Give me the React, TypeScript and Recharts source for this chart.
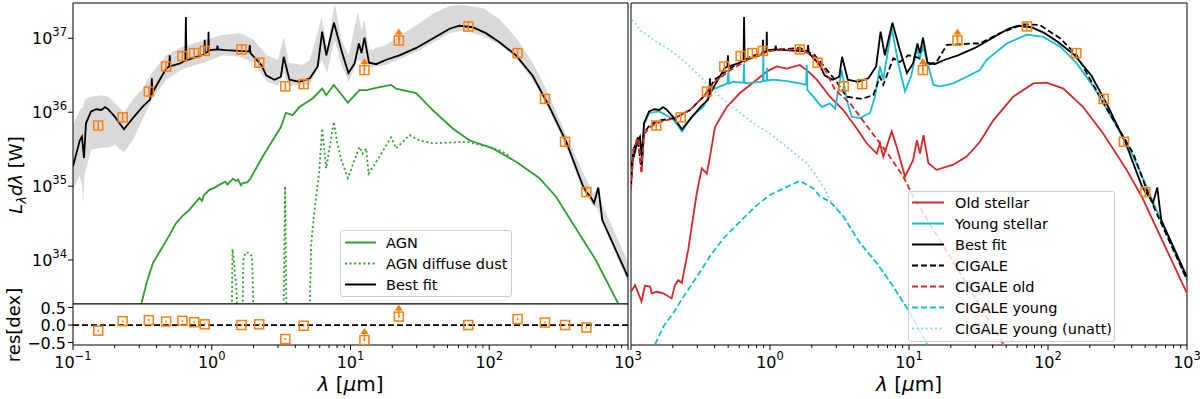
import React from 'react';
import { ComposedChart, Line, Area, Scatter, XAxis, YAxis, ReferenceLine, ReferenceArea } from 'recharts';

const FONT = '"DejaVu Sans", sans-serif';
const C_GREEN = '#2ca02c';
const C_RED = '#d62728';
const C_CYAN = '#17becf';
const C_ORANGE = '#ff7f0e';
const C_BAND = '#d9d9d9';

// photometry (lambda in um, log10 L, residual in dex, lower limit flag)
const obsLambda = [0.152, 0.228, 0.352, 0.469, 0.615, 0.746, 0.89, 1.64, 2.2, 3.39, 4.6, 12.6, 22.3, 70.6, 160, 252, 352, 501];
const obsLogL = [35.82, 35.93, 36.28, 36.62, 36.76, 36.8, 36.83, 36.85, 36.67, 36.35, 36.38, 36.57, 36.97, 37.16, 36.8, 36.18, 35.6, 34.92];
const obsRes = [-0.16, 0.11, 0.14, 0.1, 0.12, 0.08, 0.02, 0.0, 0.02, -0.4, -0.02, -0.43, 0.24, 0.0, 0.17, 0.07, 0.0, -0.07];
const obsLimit = [false, false, false, false, false, false, false, false, false, false, false, true, true, false, false, false, false, false];

// [lambda, log10 L]
const bestFit = [
  [0.1, 35.27], [0.112, 35.62], [0.116, 35.67], [0.12, 35.38], [0.124, 35.85], [0.135, 36.01], [0.147, 36.04],
  [0.16, 36.03], [0.17, 36.07], [0.179, 36.04], [0.2, 35.94], [0.233, 35.77], [0.27, 35.92], [0.319, 36.08],
  [0.359, 36.17], [0.366, 36.25], [0.37, 36.46], [0.373, 36.26], [0.422, 36.44], [0.47, 36.59], [0.494, 36.62],
  [0.498, 36.77], [0.502, 36.62], [0.59, 36.66], [0.645, 36.7], [0.651, 37.29], [0.657, 36.7], [0.77, 36.75],
  [0.885, 36.78], [0.89, 36.98], [0.895, 36.8], [0.943, 36.82], [0.948, 37.09], [0.953, 36.84], [1.09, 36.85],
  [1.1, 36.9], [1.11, 36.85], [1.27, 36.84], [1.58, 36.83], [1.86, 36.82], [1.88, 36.91], [1.9, 36.8],
  [2.28, 36.64], [2.47, 36.5], [2.83, 36.44], [3.15, 36.48], [3.3, 36.75], [3.63, 36.44], [4.3, 36.41],
  [5.1, 36.46], [5.8, 36.62], [6.25, 37.09], [6.7, 36.77], [7.6, 37.21], [8.6, 36.84], [9.66, 36.53],
  [10.7, 36.66], [11.5, 36.93], [12.0, 36.8], [12.6, 37.01], [13.6, 36.67], [15.3, 36.65], [18.1, 36.71],
  [22.5, 36.77], [29.8, 36.87], [39.5, 37.0], [51.8, 37.13], [61, 37.17], [76, 37.15], [94.6, 37.07],
  [118, 36.95], [156, 36.77], [206, 36.49], [272, 36.07], [359, 35.6], [469, 35.02], [501, 34.92],
  [540, 34.85], [569, 34.77], [611, 34.98], [653, 34.54], [1000, 33.77],
];

// [lambda, low, high] in log10 L
const bestFitBand = [
  [0.1, 34.95, 35.83], [0.112, 35.15, 36.03], [0.116, 35.02, 36.06], [0.118, 34.74, 36.06], [0.121, 35.15, 36.17],
  [0.135, 35.49, 36.21], [0.16, 35.52, 36.23], [0.18, 35.52, 36.21], [0.2, 35.56, 36.12], [0.233, 35.46, 36.0],
  [0.27, 35.62, 36.17], [0.32, 35.92, 36.33], [0.37, 36.17, 36.53], [0.47, 36.44, 36.77], [0.6, 36.57, 36.88],
  [0.645, 36.6, 36.9], [0.651, 36.6, 37.45], [0.657, 36.6, 36.9], [0.9, 36.68, 36.98], [1.2, 36.77, 37.05],
  [1.6, 36.75, 37.07], [2.0, 36.67, 36.98], [2.5, 36.41, 36.77], [3.0, 36.36, 36.71], [3.3, 36.54, 37.02],
  [3.6, 36.36, 36.67], [4.5, 36.36, 36.64], [5.1, 36.38, 36.71], [6.2, 36.71, 37.28], [6.8, 36.54, 36.87],
  [7.7, 36.98, 37.48], [8.6, 36.64, 36.98], [9.7, 36.41, 36.77], [11.3, 36.71, 37.36], [12.0, 36.68, 37.11],
  [12.6, 36.73, 37.25], [13.6, 36.6, 36.84], [18, 36.64, 36.91], [22, 36.71, 37.02], [30, 36.82, 37.18],
  [40, 36.95, 37.34], [52, 37.07, 37.44], [65, 37.11, 37.45], [90, 37.03, 37.41], [120, 36.91, 37.25],
  [160, 36.71, 36.98], [210, 36.41, 36.64], [270, 36.03, 36.23], [360, 35.52, 35.69], [470, 34.95, 35.2],
  [560, 34.74, 34.9], [600, 34.7, 34.95], [653, 34.5, 34.75], [1000, 33.7, 33.97],
];

const agn = [
  [0.3, 33.3], [0.31, 33.4], [0.34, 33.7], [0.377, 33.96], [0.443, 34.18], [0.5, 34.35], [0.553, 34.5],
  [0.62, 34.6], [0.69, 34.68], [0.75, 34.76], [0.815, 34.84], [0.85, 34.8], [0.88, 34.88], [0.96, 34.95],
  [1.05, 34.98], [1.14, 35.02], [1.25, 35.06], [1.3, 35.02], [1.42, 35.1], [1.5, 35.07], [1.55, 35.09],
  [1.62, 35.01], [1.67, 35.04], [1.8, 35.05], [1.9, 35.1], [2.03, 35.2], [2.33, 35.4], [2.75, 35.62],
  [3.15, 35.8], [3.42, 35.99], [3.83, 35.96], [4.28, 36.07], [5.36, 36.19], [6.25, 36.32], [6.68, 36.23],
  [7.58, 36.37], [9.57, 36.13], [11.6, 36.3], [13.0, 36.3], [16.2, 36.34], [19.6, 36.37], [21.3, 36.32],
  [29.7, 36.26], [39.1, 36.03], [54.5, 35.78], [71.8, 35.62], [106, 35.51], [156, 35.33], [229, 35.11],
  [302, 34.86], [398, 34.5], [586, 34.0], [861, 33.39],
];

const agnDust = [
  [1.39, 33.0], [1.41, 34.15], [1.44, 34.0], [1.47, 33.8], [1.5, 33.7], [1.54, 33.0], [1.66, 33.0],
  [1.69, 34.0], [1.75, 34.1], [1.85, 34.1], [1.95, 34.05], [2.02, 33.0], [3.28, 33.0], [3.38, 35.0],
  [3.46, 33.0], [5.05, 33.0], [5.2, 34.2], [5.45, 34.6], [5.95, 35.2], [6.25, 35.78], [6.68, 35.24],
  [7.58, 35.87], [8.0, 35.6], [8.6, 35.35], [9.57, 35.11], [11.6, 35.53], [12.2, 35.44], [12.97, 35.51],
  [13.5, 35.17], [16.2, 35.4], [19.6, 35.66], [21.3, 35.51], [26.6, 35.69], [31.3, 35.62], [39.1, 35.58],
  [51.8, 35.59], [68.3, 35.6], [95.7, 35.54], [124, 35.47], [140, 35.4],
];

const oldStellar = [
  [0.1, 33.57], [0.107, 33.66], [0.119, 33.44], [0.126, 33.65], [0.137, 33.64], [0.141, 33.55], [0.153, 33.57],
  [0.171, 33.55], [0.196, 33.48], [0.207, 33.66], [0.219, 33.73], [0.232, 33.69], [0.258, 34.14], [0.297, 34.9],
  [0.323, 35.24], [0.351, 35.17], [0.37, 35.4], [0.402, 35.8], [0.488, 36.07], [0.608, 36.26], [0.802, 36.44],
  [0.946, 36.55], [1.12, 36.62], [1.32, 36.59], [1.64, 36.64], [1.89, 36.55], [2.17, 36.44], [2.7, 36.21],
  [3.37, 36.03], [4.21, 35.78], [4.96, 35.58], [5.86, 35.44], [6.18, 35.58], [6.53, 35.4], [7.51, 35.74],
  [8.16, 35.53], [9.36, 35.13], [10.7, 35.35], [11.4, 35.62], [12.0, 35.44], [12.7, 35.69], [13.8, 35.31],
  [15.8, 35.22], [20.8, 35.29], [26.0, 35.4], [32.4, 35.6], [40.4, 35.89], [56.2, 36.21], [78.3, 36.39],
  [97.9, 36.4], [129, 36.32], [179, 36.07], [250, 35.71], [368, 35.22], [472, 34.86], [1000, 33.55],
];

const youngStellar = [
  [0.1, 35.25], [0.112, 35.6], [0.116, 35.65], [0.12, 35.36], [0.124, 35.83], [0.135, 35.99], [0.16, 36.01],
  [0.2, 35.91], [0.233, 35.74], [0.273, 35.94], [0.331, 36.07], [0.381, 36.3], [0.437, 36.35], [0.495, 36.39],
  [0.501, 36.55], [0.507, 36.39], [0.545, 36.41], [0.645, 36.4], [0.65, 36.66], [0.655, 36.4], [0.679, 36.39],
  [0.847, 36.41], [0.89, 36.42], [0.895, 36.87], [0.9, 36.42], [0.945, 36.43], [0.95, 36.6], [0.955, 36.43],
  [1.06, 36.44], [1.32, 36.42], [1.64, 36.39], [1.82, 36.37], [1.84, 36.64], [1.86, 36.3], [2.05, 36.21],
  [2.36, 36.07], [2.7, 36.12], [2.94, 36.05], [3.28, 36.57], [3.56, 36.17], [3.87, 35.94], [4.44, 35.92],
  [5.24, 35.99], [5.69, 36.21], [6.18, 36.62], [6.53, 36.44], [7.51, 37.14], [8.38, 36.66], [9.36, 36.28],
  [10.4, 36.5], [11.4, 36.87], [11.9, 36.71], [12.6, 36.89], [15.0, 36.37], [16.7, 36.35], [20.8, 36.39],
  [26.0, 36.48], [32.4, 36.57], [36.2, 36.71], [50.5, 36.93], [70.3, 37.05], [92.5, 37.02], [122, 36.89],
  [161, 36.66], [212, 36.35], [295, 35.89], [411, 35.4], [513, 34.99], [573, 34.77], [1000, 33.74],
];

const cigale = [
  [0.1, 34.99], [0.104, 35.49], [0.112, 35.66], [0.119, 35.2], [0.124, 35.72], [0.137, 35.83], [0.162, 35.89],
  [0.207, 35.92], [0.266, 36.03], [0.34, 36.23], [0.4, 36.44], [0.52, 36.6], [0.72, 36.75], [1.0, 36.84],
  [1.64, 36.87], [2.1, 36.77], [2.5, 36.6], [3.02, 36.41], [3.56, 36.21], [4.57, 36.18], [5.53, 36.23],
  [6.18, 36.48], [6.53, 36.37], [7.71, 36.73], [8.61, 36.68], [9.88, 36.77], [12.0, 36.73], [13.4, 36.64],
  [15.8, 36.68], [18.7, 36.91], [23.3, 36.92], [29.0, 36.93], [32.4, 36.93], [45.2, 37.07], [66.4, 37.19],
  [87.5, 37.18], [122, 37.0], [161, 36.77], [236, 36.21], [411, 35.44], [513, 34.95], [589, 34.68], [1000, 33.73],
];

const cigaleOld = [
  [0.1, 34.95], [0.104, 35.49], [0.112, 35.65], [0.119, 35.18], [0.124, 35.7], [0.137, 35.8], [0.162, 35.87],
  [0.207, 35.92], [0.266, 36.03], [0.34, 36.23], [0.4, 36.41], [0.52, 36.57], [0.72, 36.73], [1.0, 36.83],
  [1.64, 36.855], [2.1, 36.75], [2.5, 36.57], [2.94, 36.3], [3.77, 36.12], [4.44, 35.94], [6.18, 35.58],
  [7.27, 35.4], [9.1, 35.13], [10.7, 34.86], [47.6, 32.87], [60, 32.6],
];

const cigaleYoung = [
  [0.14, 32.75], [0.171, 33.1], [0.201, 33.28], [0.238, 33.5], [0.297, 33.77], [0.37, 34.05], [0.461, 34.29],
  [0.608, 34.52], [0.802, 34.74], [1.0, 34.88], [1.32, 34.99], [1.64, 35.07], [2.05, 34.97], [2.29, 34.86],
  [2.7, 34.79], [3.37, 34.59], [4.44, 34.23], [5.86, 33.96], [7.71, 33.64], [10.2, 33.28], [14.5, 32.75],
];

const cigaleYoungUnatt = [
  [0.101, 37.25], [0.108, 37.2], [0.116, 37.11], [0.13, 37.05], [0.145, 36.98], [0.17, 36.9], [0.191, 36.84],
  [0.252, 36.66], [0.331, 36.44], [0.437, 36.21], [0.575, 36.03], [0.759, 35.85], [1.0, 35.71], [1.32, 35.53],
  [1.84, 35.31], [2.17, 35.13], [2.36, 35.02], [2.5, 34.95], [2.7, 34.81], [3.37, 34.59], [4.44, 34.23],
  [5.86, 33.96], [7.71, 33.64], [10.2, 33.28], [14.5, 32.75],
];

const xMajor = [0.1, 1, 10, 100, 1000];
const xMinorMult = [2, 3, 4, 5, 6, 7, 8, 9];
const yMajorMain = [1e34, 1e35, 1e36, 1e37];
const resTicks = [-0.5, 0, 0.5];

const leftLegend = [
  { label: 'AGN', color: C_GREEN, dash: undefined, opacity: 1 },
  { label: 'AGN diffuse dust', color: C_GREEN, dash: '2 2.6', opacity: 1 },
  { label: 'Best fit', color: '#000', dash: undefined, opacity: 1 },
];
const rightLegend = [
  { label: 'Old stellar', color: C_RED, dash: undefined, opacity: 1 },
  { label: 'Young stellar', color: C_CYAN, dash: undefined, opacity: 1 },
  { label: 'Best fit', color: '#000', dash: undefined, opacity: 1 },
  { label: 'CIGALE', color: '#000', dash: '6 3', opacity: 1 },
  { label: 'CIGALE old', color: C_RED, dash: '6 3', opacity: 1 },
  { label: 'CIGALE young', color: C_CYAN, dash: '6 3', opacity: 1 },
  { label: 'CIGALE young (unatt)', color: C_CYAN, dash: '2 2.6', opacity: 0.5 },
];

const xDom: [number, number] = [0.1, 1000];
const mainY: [number, number] = [10 ** 33.405, 10 ** 37.478];
const rightY: [number, number] = [10 ** 32.85, 10 ** 37.478];
const resY: [number, number] = [-0.57, 0.6];

const pts = (s: number[][]) => s.map(([x, v]) => ({ x, y: 10 ** v }));
const bandData = bestFitBand.map(([x, lo, hi]) => ({ x, band: [10 ** lo, 10 ** hi] }));
const obsMain = obsLambda.map((x, i) => ({ x, y: 10 ** obsLogL[i], limit: obsLimit[i] }));
const obsResid = obsLambda.map((x, i) => ({ x, y: obsRes[i], limit: obsLimit[i] }));
const xTicks = [...xMajor, ...xMajor.slice(0, -1).flatMap((m) => xMinorMult.map((k) => +(m * k).toPrecision(6)))].sort(
  (a, b) => a - b
);

const sup = (e: number) => (e < 0 ? '\u2212' + -e : String(e));

const makeXTick = (hidden: number[]) => (props: any) => {
  const { x, y, payload } = props;
  const v = payload.value;
  const major = xMajor.includes(v);
  const e = Math.round(Math.log10(v));
  return (
    <g>
      <line x1={x} x2={x} y1={y} y2={y + (major ? 5 : 3)} stroke="#000" strokeWidth={1} />
      {major && !hidden.includes(v) && (
        <text x={x} y={y + 23} textAnchor="middle" fontSize={16} fontFamily={FONT} fill="#000">
          10
          <tspan dy={-8} fontSize={11.5}>
            {sup(e)}
          </tspan>
        </text>
      )}
    </g>
  );
};
const LeftXTick = makeXTick([]);
const RightXTick = makeXTick([0.1]);

const LogYTick = (props: any) => {
  const { x, y, payload } = props;
  const e = Math.round(Math.log10(payload.value));
  return (
    <g>
      <line x1={x - 5} x2={x} y1={y} y2={y} stroke="#000" strokeWidth={1} />
      <text x={x - 6} y={y + 6} textAnchor="end" fontSize={16} fontFamily={FONT} fill="#000">
        10
        <tspan dy={-8} fontSize={11.5}>
          {sup(e)}
        </tspan>
      </text>
    </g>
  );
};

const ResYTick = (props: any) => {
  const { x, y, payload } = props;
  const v = payload.value;
  const s = v < 0 ? '\u2212' + (-v).toFixed(1) : v.toFixed(1);
  return (
    <g>
      <line x1={x - 5} x2={x} y1={y} y2={y} stroke="#000" strokeWidth={1} />
      <text x={x - 7} y={y + 6} textAnchor="end" fontSize={16} fontFamily={FONT} fill="#000">
        {s}
      </text>
    </g>
  );
};

const makeMarker = (bar: number) => (props: any) => {
  const { cx, cy, payload } = props;
  if (cx == null || cy == null) return <g />;
  const s = 4.5;
  return (
    <g>
      <rect x={cx - s} y={cy - s} width={2 * s} height={2 * s} fill="none" stroke={C_ORANGE} strokeWidth={1.5} />
      <line x1={cx} x2={cx} y1={cy - bar} y2={cy + bar} stroke={C_ORANGE} strokeWidth={1.5} />
      {payload && payload.limit && (
        <g>
          <line x1={cx} x2={cx} y1={cy + 1} y2={cy - 7} stroke={C_ORANGE} strokeWidth={1.5} />
          <path d={`M${cx - 4},${cy - 6} L${cx + 4},${cy - 6} L${cx},${cy - 12} Z`} fill={C_ORANGE} />
        </g>
      )}
    </g>
  );
};
const MainMarker = makeMarker(4);
const ResMarker = makeMarker(1);

// y label of the left panel sits centred on main + residual axes
const MainYLabel = () => (
  <text x={22} y={175} transform="rotate(-90, 22, 175)" textAnchor="middle" fontSize={18} fontFamily={FONT} fill="#000">
    <tspan fontStyle="italic">L</tspan>
    <tspan fontStyle="italic" fontSize={13} dy={4}>
      λ
    </tspan>
    <tspan fontStyle="italic" dy={-4}>
      dλ
    </tspan>
    <tspan> [W]</tspan>
  </text>
);

const ResYLabel = () => (
  <text x={20} y={71} transform="rotate(-90, 20, 71)" textAnchor="middle" fontSize={18} fontFamily={FONT} fill="#000">
    res[dex]
  </text>
);

const makeXLabel = (cx: number, y: number) => () => (
  <text x={cx} y={y} textAnchor="middle" fontSize={20} fontFamily={FONT} fill="#000">
    <tspan fontStyle="italic">λ</tspan> [<tspan fontStyle="italic">μ</tspan>m]
  </text>
);

const lineProps = { dot: false, activeDot: false, isAnimationActive: false, strokeWidth: 1.8, dataKey: 'y' } as const;

const LegendBox = ({ left, top, width, height, items, rowStart, lineX0, lineX1, textX }: any) => (
  <div
    style={{
      position: 'absolute',
      left,
      top,
      width,
      height,
      background: 'rgba(255,255,255,0.8)',
      border: '1px solid #cccccc',
      borderRadius: 3,
      boxSizing: 'border-box',
    }}
  >
    <svg width={width} height={height} style={{ position: 'absolute', left: -1, top: -1 }}>
      {items.map((it: any, i: number) => {
        const y = rowStart + i * 21;
        return (
          <g key={it.label}>
            <line x1={lineX0} x2={lineX1} y1={y} y2={y} stroke={it.color} strokeOpacity={it.opacity} strokeWidth={2} strokeDasharray={it.dash} />
            <text x={textX} y={y + 5} fontSize={14.5} fontFamily={FONT} fill="#000">
              {it.label}
            </text>
          </g>
        );
      })}
    </svg>
  </div>
);

export default function App() {
  return (
    <div style={{ position: 'absolute', left: 0, top: 0, width: 1200, height: 399, background: '#fff' }}>
      {/* left: SED with AGN components */}
      <div style={{ position: 'absolute', left: 0, top: 0 }}>
        <ComposedChart width={630} height={304} margin={{ top: 3, right: 2, bottom: 0, left: 0 }}>
          <XAxis dataKey="x" type="number" scale="log" domain={xDom} allowDataOverflow hide />
          <YAxis
            type="number"
            scale="log"
            domain={mainY}
            allowDataOverflow
            width={73}
            ticks={yMajorMain}
            interval={0}
            tick={LogYTick}
            tickLine={false}
            axisLine={false}
            tickSize={0}
            tickMargin={0}
          />
          <Area data={bandData} dataKey="band" stroke="none" fill={C_BAND} fillOpacity={1} isAnimationActive={false} activeDot={false} />
          <Line data={pts(agn)} stroke={C_GREEN} {...lineProps} />
          <Line data={pts(agnDust)} stroke={C_GREEN} strokeDasharray="2 2.6" {...lineProps} />
          <Line data={pts(bestFit)} stroke="#000" {...lineProps} />
          <Scatter data={obsMain} dataKey="y" shape={MainMarker} isAnimationActive={false} />
          <ReferenceArea x1={xDom[0]} x2={xDom[1]} y1={mainY[0]} y2={mainY[1]} fill="none" stroke="#000" strokeWidth={1} ifOverflow="visible" />
        </ComposedChart>
      </div>

      {/* left: residuals (chart starts higher so the rotated labels fit) */}
      <div style={{ position: 'absolute', left: 0, top: 254 }}>
        <ComposedChart width={662} height={145} margin={{ top: 50, right: 34, bottom: 0, left: 0 }}>
          <XAxis
            dataKey="x"
            type="number"
            scale="log"
            domain={xDom}
            allowDataOverflow
            height={54}
            ticks={xTicks}
            interval={0}
            tick={LeftXTick}
            tickLine={false}
            axisLine={false}
            tickSize={0}
            tickMargin={0}
            label={makeXLabel(350.5, 137)}
          />
          <YAxis
            type="number"
            domain={resY}
            allowDataOverflow
            width={73}
            ticks={resTicks}
            interval={0}
            tick={ResYTick}
            tickLine={false}
            axisLine={false}
            tickSize={0}
            tickMargin={0}
            label={ResYLabel}
          />
          <ReferenceLine y={0} stroke="#000" strokeWidth={1.8} strokeDasharray="6 3" />
          <Scatter data={obsResid} dataKey="y" shape={ResMarker} isAnimationActive={false} />
          <ReferenceArea x1={xDom[0]} x2={xDom[1]} y1={resY[0]} y2={resY[1]} fill="none" stroke="#000" strokeWidth={1} ifOverflow="visible" />
        </ComposedChart>
      </div>

      {/* right: stellar components vs CIGALE */}
      <div style={{ position: 'absolute', left: 600, top: 0 }}>
        <ComposedChart width={600} height={399} margin={{ top: 3, right: 13, bottom: 0, left: 31 }}>
          <XAxis
            dataKey="x"
            type="number"
            scale="log"
            domain={xDom}
            allowDataOverflow
            height={54}
            ticks={xTicks}
            interval={0}
            tick={RightXTick}
            tickLine={false}
            axisLine={false}
            tickSize={0}
            tickMargin={0}
            label={makeXLabel(309, 391)}
          />
          <YAxis type="number" scale="log" domain={rightY} allowDataOverflow hide />
          <Line data={pts(oldStellar)} stroke={C_RED} {...lineProps} />
          <Line data={pts(youngStellar)} stroke={C_CYAN} {...lineProps} />
          <Line data={pts(bestFit)} stroke="#000" {...lineProps} />
          <Line data={pts(cigale)} stroke="#000" strokeDasharray="6 3" {...lineProps} />
          <Line data={pts(cigaleOld)} stroke={C_RED} strokeDasharray="6 3" {...lineProps} />
          <Line data={pts(cigaleYoung)} stroke={C_CYAN} strokeDasharray="6 3" {...lineProps} />
          <Line data={pts(cigaleYoungUnatt)} stroke={C_CYAN} strokeOpacity={0.5} strokeDasharray="2 2.6" {...lineProps} />
          <Scatter data={obsMain} dataKey="y" shape={MainMarker} isAnimationActive={false} />
          <ReferenceArea x1={xDom[0]} x2={xDom[1]} y1={rightY[0]} y2={rightY[1]} fill="none" stroke="#000" strokeWidth={1} ifOverflow="visible" />
        </ComposedChart>
      </div>

      {/* y label over the left panel, drawn in its own layer */}
      <svg width={40} height={399} style={{ position: 'absolute', left: 0, top: 0 }}>
        <MainYLabel />
      </svg>

      <LegendBox left={340} top={230} width={172} height={67} items={leftLegend} rowStart={12.5} lineX0={5} lineX1={36} textX={46} />
      <LegendBox left={908} top={191} width={207} height={151} items={rightLegend} rowStart={11.5} lineX0={4} lineX1={36} textX={47} />
    </div>
  );
}
